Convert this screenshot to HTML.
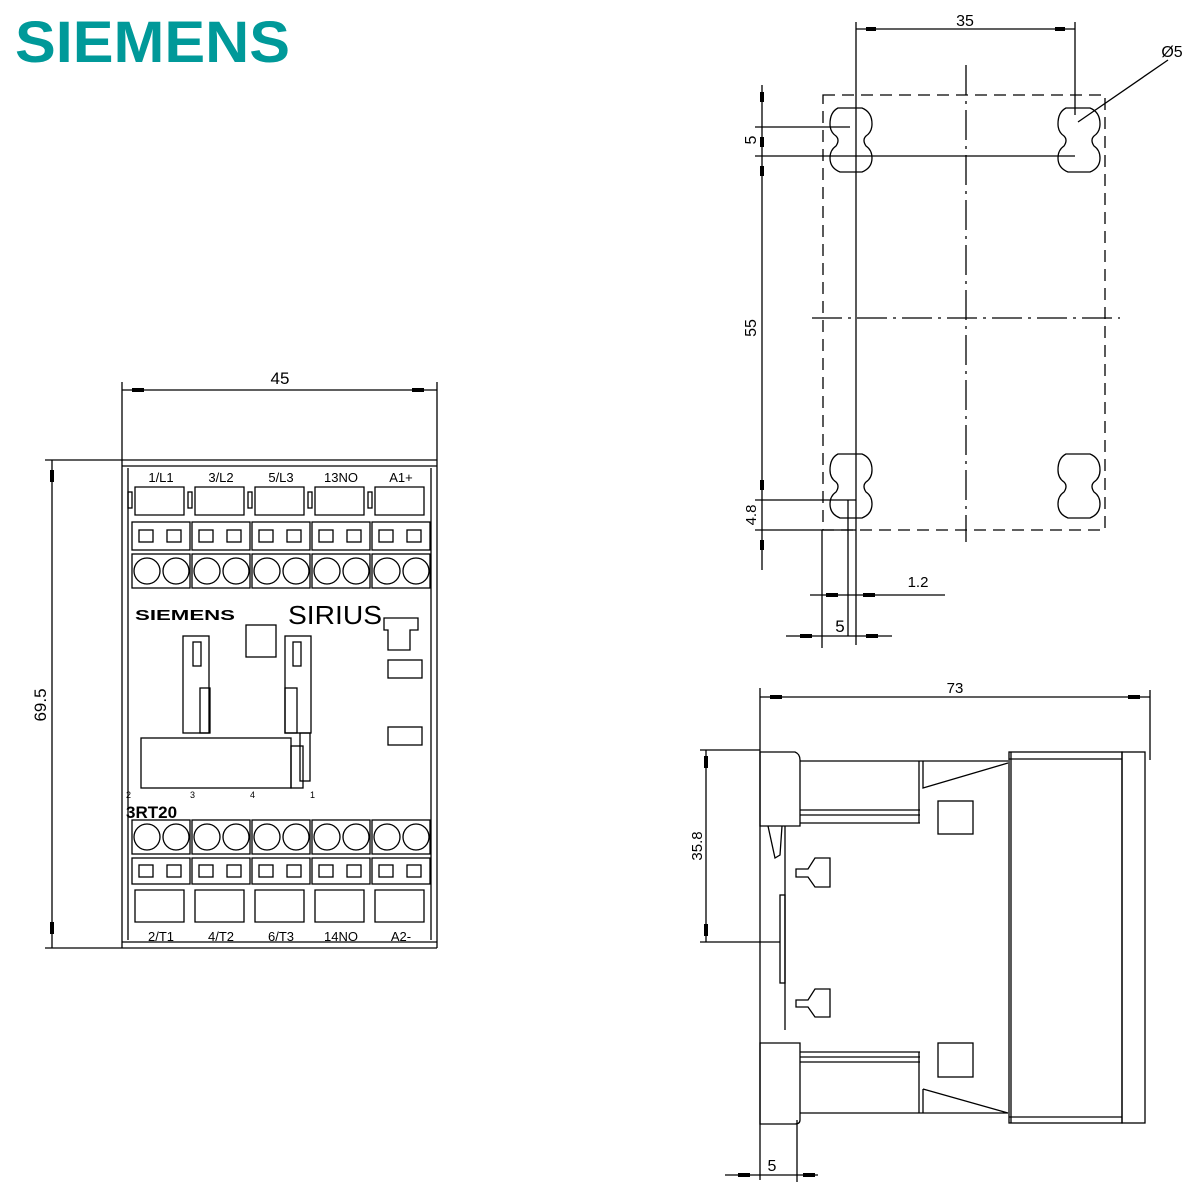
<!DOCTYPE html>
<html><head><meta charset="utf-8"><style>
html,body{margin:0;padding:0;background:#fff}
svg{display:block}
text{font-family:"Liberation Sans",sans-serif;fill:#000}
</style></head><body>
<svg id="s" width="1200" height="1200" viewBox="0 0 1200 1200" xmlns="http://www.w3.org/2000/svg">
<text x="15" y="62" font-size="58" font-weight="bold" style="fill:#009999" textLength="275" lengthAdjust="spacingAndGlyphs">SIEMENS</text>

<g stroke="#000" stroke-width="1.3" fill="none">
<rect x="823" y="95" width="282" height="435" stroke-dasharray="12,7"/>
<line x1="966" y1="65" x2="966" y2="542" stroke-dasharray="30,6,3,6"/>
<line x1="812" y1="318" x2="1120" y2="318" stroke-dasharray="30,6,3,6"/>
<line x1="856" y1="22" x2="856" y2="645"/>
<line x1="1075" y1="22" x2="1075" y2="115"/>
<line x1="856" y1="29" x2="1075" y2="29"/>
<path id="slot" d="M838 108 H862 Q872 112 872 124 Q872 132 866 136 Q862 140 866 146 Q872 150 872 158 Q872 168 862 172 H840 Q830 168 830 158 Q830 150 836 146 Q840 140 836 136 Q830 132 830 124 Q830 112 838 108 Z"/>
<use href="#slot" x="228" y="0"/>
<use href="#slot" x="0" y="346"/>
<use href="#slot" x="228" y="346"/>
<line x1="762" y1="85" x2="762" y2="570"/>
<line x1="755" y1="127" x2="850" y2="127"/>
<line x1="755" y1="156" x2="1075" y2="156"/>
<line x1="755" y1="500" x2="856" y2="500"/>
<line x1="755" y1="530" x2="856" y2="530"/>
<line x1="822" y1="530" x2="822" y2="648"/>
<line x1="848" y1="500" x2="848" y2="636"/>
<line x1="810" y1="595" x2="945" y2="595"/>
<line x1="786" y1="636" x2="892" y2="636"/>
<line x1="1078" y1="122" x2="1168" y2="60"/>
<line x1="122" y1="382" x2="122" y2="948"/>
<line x1="437" y1="382" x2="437" y2="948"/>
<line x1="122" y1="390" x2="437" y2="390"/>
<line x1="52" y1="460" x2="52" y2="948"/>
<line x1="45" y1="460" x2="437" y2="460"/>
<line x1="45" y1="948" x2="437" y2="948"/>
<line x1="128" y1="468" x2="128" y2="940"/>
<line x1="431" y1="468" x2="431" y2="940"/>
<line x1="122" y1="466" x2="437" y2="466"/>
<line x1="122" y1="942" x2="437" y2="942"/>
<g id="fg"></g>
<rect x="183" y="636" width="26" height="97"/>
<rect x="193" y="642" width="8" height="24"/>
<rect x="200" y="688" width="10" height="45"/>
<rect x="246" y="625" width="30" height="32"/>
<rect x="285" y="636" width="26" height="97"/>
<rect x="293" y="642" width="8" height="24"/>
<rect x="285" y="688" width="12" height="45"/>
<rect x="300" y="733" width="10" height="48"/>
<rect x="141" y="738" width="150" height="50"/>
<rect x="291" y="746" width="12" height="42"/>
<path d="M384 618 H418 V630 H410 V650 H388 V630 H384 Z"/>
<rect x="388" y="660" width="34" height="18"/>
<rect x="388" y="727" width="34" height="18"/>
<line x1="760" y1="688" x2="760" y2="1180"/>
<line x1="1150" y1="690" x2="1150" y2="760"/>
<line x1="760" y1="697" x2="1150" y2="697"/>
<line x1="706" y1="750" x2="706" y2="942"/>
<line x1="700" y1="750" x2="760" y2="750"/>
<line x1="700" y1="942" x2="780" y2="942"/>
<line x1="797" y1="1120" x2="797" y2="1182"/>
<line x1="725" y1="1175" x2="818" y2="1175"/>
<path d="M760 752 H795 Q800 754 800 760 V826 H760 Z"/>
<path d="M760 1043 H800 V1120 Q800 1124 795 1124 H760 Z"/>
<line x1="785" y1="826" x2="785" y2="1030"/>
<path d="M768 826 L775 858 L780 855 L782 826"/>
<rect x="780" y="895" width="5" height="88"/>
<path d="M800 761 H1008 M800 823 H920 M800 810 H920 M800 815 H920 M919 761 V823 M923 761 V788 L1008 763"/>
<path d="M800 1113 H1008 M800 1052 H920 M800 1057 H920 M800 1062 H920 M919 1052 V1113 M923 1089 V1113 M923 1089 L1008 1113"/>
<rect x="938" y="801" width="35" height="33"/>
<rect x="938" y="1043" width="35" height="34"/>
<path d="M796 869 H808 L815 858 H830 V887 H815 L808 877 H796 Z"/>
<path d="M796 1000 H808 L815 989 H830 V1017 H815 L808 1007 H796 Z"/>
<rect x="1009" y="752" width="113" height="371"/>
<line x1="1009" y1="759" x2="1122" y2="759"/>
<line x1="1009" y1="1117" x2="1122" y2="1117"/>
<line x1="1011" y1="752" x2="1011" y2="1123"/>
<rect x="1122" y="752" width="23" height="371"/>
</g>
<g fill="#000">
<rect x="866" y="27" width="10" height="4"/><rect x="1055" y="27" width="10" height="4"/>
<rect x="760" y="92" width="4" height="10"/><rect x="760" y="137" width="4" height="10"/>
<rect x="760" y="166" width="4" height="10"/><rect x="760" y="480" width="4" height="10"/>
<rect x="760" y="540" width="4" height="10"/>
<rect x="826" y="593" width="12" height="4"/><rect x="863" y="593" width="12" height="4"/>
<rect x="800" y="634" width="12" height="4"/><rect x="866" y="634" width="12" height="4"/>
<rect x="132" y="388" width="12" height="4"/><rect x="412" y="388" width="12" height="4"/>
<rect x="50" y="470" width="4" height="12"/><rect x="50" y="922" width="4" height="12"/>
<rect x="770" y="695" width="12" height="4"/><rect x="1128" y="695" width="12" height="4"/>
<rect x="704" y="756" width="4" height="12"/><rect x="704" y="924" width="4" height="12"/>
<rect x="738" y="1173" width="12" height="4"/><rect x="803" y="1173" width="12" height="4"/>
</g>
<text x="965" y="26" font-size="16" text-anchor="middle">35</text>
<text x="1172" y="57" font-size="16" text-anchor="middle">Ø5</text>
<text x="918" y="587" font-size="15" text-anchor="middle">1.2</text>
<text x="840" y="632" font-size="17" text-anchor="middle">5</text>
<text transform="translate(756,140) rotate(-90)" font-size="16" text-anchor="middle">5</text>
<text transform="translate(756,328) rotate(-90)" font-size="16" text-anchor="middle">55</text>
<text transform="translate(756,515) rotate(-90)" font-size="15" text-anchor="middle">4.8</text>
<text x="280" y="384" font-size="17" text-anchor="middle">45</text>
<text transform="translate(46,705) rotate(-90)" font-size="17" text-anchor="middle">69.5</text>
<text x="955" y="693" font-size="15" text-anchor="middle">73</text>
<text transform="translate(702,846) rotate(-90)" font-size="15" text-anchor="middle">35.8</text>
<text x="772" y="1171" font-size="16" text-anchor="middle">5</text>
<g font-size="13" text-anchor="middle">
<text x="161" y="482">1/L1</text><text x="221" y="482">3/L2</text><text x="281" y="482">5/L3</text><text x="341" y="482">13NO</text><text x="401" y="482">A1+</text>
<text x="161" y="941">2/T1</text><text x="221" y="941">4/T2</text><text x="281" y="941">6/T3</text><text x="341" y="941">14NO</text><text x="401" y="941">A2-</text>
</g>
<text x="135" y="620" font-size="15" font-weight="bold" textLength="100" lengthAdjust="spacingAndGlyphs">SIEMENS</text>
<text x="288" y="624" font-size="26" textLength="94" lengthAdjust="spacingAndGlyphs">SIRIUS</text>
<text x="126" y="818" font-size="17" font-weight="bold">3RT20</text>
<text x="126" y="798" font-size="9">2</text><text x="190" y="798" font-size="9">3</text><text x="250" y="798" font-size="9">4</text><text x="310" y="798" font-size="9">1</text>
</svg>
<script>
var g=document.getElementById('fg'),h='';
for(var i=0;i<5;i++){var x=132+i*60;
h+='<path d="M'+(x+3)+' 487 H'+(x+52)+' V515 H'+(x+3)+' Z"/>';
h+='<rect x="'+(x-4)+'" y="492" width="4" height="16"/>';
h+='<rect x="'+x+'" y="522" width="58" height="28"/><rect x="'+(x+7)+'" y="530" width="14" height="12"/><rect x="'+(x+35)+'" y="530" width="14" height="12"/>';
h+='<rect x="'+x+'" y="554" width="58" height="34"/><circle cx="'+(x+15)+'" cy="571" r="13"/><circle cx="'+(x+44)+'" cy="571" r="13"/>';
h+='<rect x="'+x+'" y="820" width="58" height="34"/><circle cx="'+(x+15)+'" cy="837" r="13"/><circle cx="'+(x+44)+'" cy="837" r="13"/>';
h+='<rect x="'+x+'" y="858" width="58" height="26"/><rect x="'+(x+7)+'" y="865" width="14" height="12"/><rect x="'+(x+35)+'" y="865" width="14" height="12"/>';
h+='<path d="M'+(x+3)+' 890 H'+(x+52)+' V922 H'+(x+3)+' Z"/>';
}
g.innerHTML=h;
</script>
</body></html>
